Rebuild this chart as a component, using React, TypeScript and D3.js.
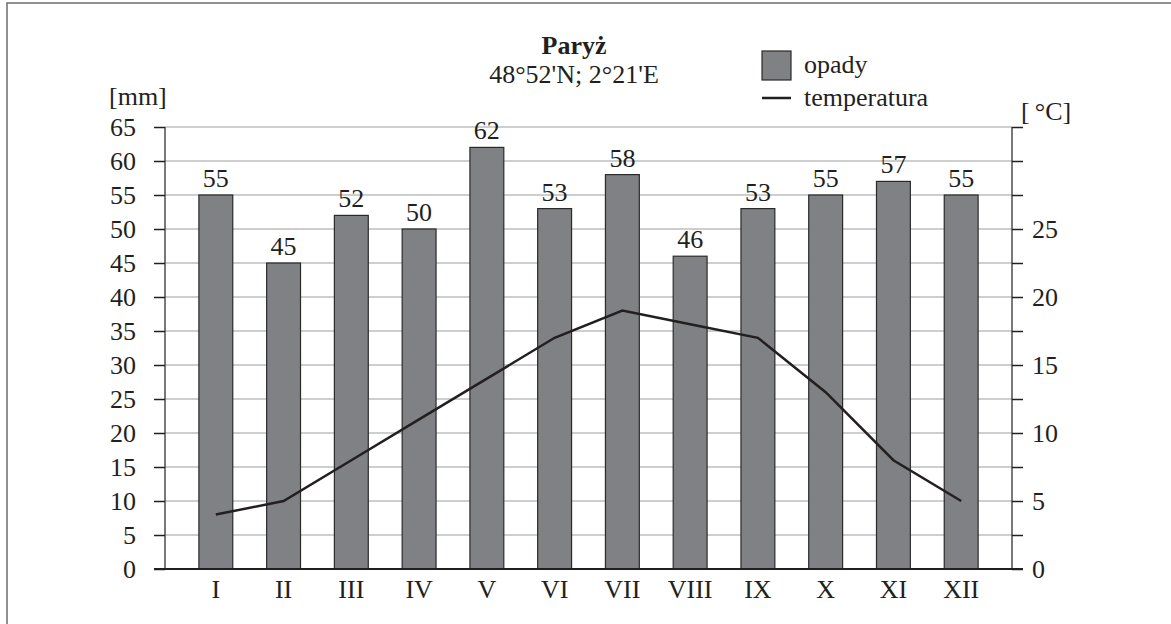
import React, { useEffect, useRef } from 'react';
import * as d3 from 'd3';

// Paris climate chart: monthly precipitation (bars) and temperature (line)
const months = ['I', 'II', 'III', 'IV', 'V', 'VI', 'VII', 'VIII', 'IX', 'X', 'XI', 'XII'];
const precipitation = [55, 45, 52, 50, 62, 53, 58, 46, 53, 55, 57, 55];
const temperature = [4, 5, 8, 11, 14, 17, 19, 18, 17, 13, 8, 5];
const mmTicks = [0, 5, 10, 15, 20, 25, 30, 35, 40, 45, 50, 55, 60, 65];
const tempTicks = [0, 2.5, 5, 7.5, 10, 12.5, 15, 17.5, 20, 22.5, 25, 27.5, 30, 32.5];
const tempLabels = [0, 5, 10, 15, 20, 25];

const W = 1171;
const H = 624;
const FONT = '"Liberation Serif", "Times New Roman", serif';
const FS = 26;
const INK = '#231f20';

const App = () => {
  const ref = useRef<SVGSVGElement>(null);

  useEffect(() => {
    const svg = d3.select(ref.current);
    svg.selectAll('*').remove();

    const left = 165;
    const right = 1012;
    const bottom = 569;
    const top = 127;

    const x = d3.scaleBand<string>()
      .domain(months)
      .range([left, right])
      .paddingInner(0.5)
      .paddingOuter(0.5);
    const y = d3.scaleLinear().domain([0, 65]).range([bottom, top]);
    const yT = d3.scaleLinear().domain([0, 32.5]).range([bottom, top]);

    // frame (only top and left edges show)
    svg.append('path')
      .attr('d', `M7,${H} V3 H${W}`)
      .attr('fill', 'none')
      .attr('stroke', '#6d6e70')
      .attr('stroke-width', 1.5);

    // grid
    svg.append('g')
      .selectAll('line')
      .data(mmTicks.filter(d => d > 0))
      .enter()
      .append('line')
      .attr('x1', left)
      .attr('x2', right)
      .attr('y1', d => y(d))
      .attr('y2', d => y(d))
      .attr('stroke', '#bcbec0')
      .attr('stroke-width', 1.5);

    // bars
    svg.append('g')
      .selectAll('rect')
      .data(precipitation)
      .enter()
      .append('rect')
      .attr('x', (d, i) => x(months[i])!)
      .attr('y', d => y(d))
      .attr('width', x.bandwidth())
      .attr('height', d => bottom - y(d))
      .attr('fill', '#808184')
      .attr('stroke', '#2b2a2b')
      .attr('stroke-width', 1.2);

    // bar values
    svg.append('g')
      .selectAll('text')
      .data(precipitation)
      .enter()
      .append('text')
      .attr('x', (d, i) => x(months[i])! + x.bandwidth() / 2)
      .attr('y', d => y(d) - 8)
      .attr('text-anchor', 'middle')
      .attr('font-family', FONT)
      .attr('font-size', FS)
      .attr('fill', INK)
      .text(d => d);

    // temperature line
    const line = d3.line<number>()
      .x((d, i) => x(months[i])! + x.bandwidth() / 2)
      .y(d => yT(d));
    svg.append('path')
      .datum(temperature)
      .attr('d', line)
      .attr('fill', 'none')
      .attr('stroke', INK)
      .attr('stroke-width', 2.5);

    // left axis
    const yAxis = d3.axisLeft(y).tickValues(mmTicks).tickSize(11).tickPadding(18);
    const gl = svg.append('g').attr('transform', `translate(${left},0)`).call(yAxis);
    gl.select('.domain').attr('d', `M0,${top}V${bottom}`).attr('stroke', '#4d4d4f').attr('stroke-width', 1.5);

    // right axis
    const yTAxis = d3.axisRight(yT)
      .tickValues(tempTicks)
      .tickSize(11)
      .tickPadding(9)
      .tickFormat(d => (tempLabels.includes(+d) ? String(d) : ''));
    const gr = svg.append('g').attr('transform', `translate(${right},0)`).call(yTAxis);
    gr.select('.domain').attr('d', `M0,${top}V${bottom}`).attr('stroke', '#4d4d4f').attr('stroke-width', 1.5);

    [gl, gr].forEach(g => {
      g.attr('font-family', FONT).attr('font-size', FS);
      g.selectAll('.tick line').attr('stroke', INK).attr('stroke-width', 1.5);
      g.selectAll('.tick text').attr('fill', INK);
    });

    // baseline
    svg.append('line')
      .attr('x1', left - 11)
      .attr('x2', right + 11)
      .attr('y1', bottom)
      .attr('y2', bottom)
      .attr('stroke', INK)
      .attr('stroke-width', 2);

    // bottom axis (month names)
    const xAxis = d3.axisBottom(x).tickSize(0).tickPadding(11);
    const gb = svg.append('g').attr('transform', `translate(0,${bottom})`).call(xAxis);
    gb.select('.domain').remove();
    gb.attr('font-family', FONT).attr('font-size', FS);
    gb.selectAll('.tick text').attr('fill', INK);

    // unit labels
    svg.append('text')
      .attr('x', 109).attr('y', 105)
      .attr('font-family', FONT).attr('font-size', FS).attr('fill', INK)
      .text('[mm]');
    svg.append('text')
      .attr('x', 1021).attr('y', 120)
      .attr('font-family', FONT).attr('font-size', FS).attr('fill', INK)
      .text('[\u2009°C]');

    // title
    svg.append('text')
      .attr('x', 574).attr('y', 54)
      .attr('text-anchor', 'middle')
      .attr('font-family', FONT).attr('font-size', FS).attr('font-weight', 'bold').attr('fill', INK)
      .text('Paryż');
    svg.append('text')
      .attr('x', 574).attr('y', 83)
      .attr('text-anchor', 'middle')
      .attr('font-family', FONT).attr('font-size', FS).attr('fill', INK)
      .text("48°52'N; 2°21'E");

    // legend
    svg.append('rect')
      .attr('x', 762).attr('y', 51).attr('width', 29).attr('height', 29)
      .attr('fill', '#808184').attr('stroke', '#2b2a2b').attr('stroke-width', 1.2);
    svg.append('text')
      .attr('x', 804).attr('y', 73)
      .attr('font-family', FONT).attr('font-size', FS).attr('fill', INK)
      .text('opady');
    svg.append('line')
      .attr('x1', 762).attr('x2', 791).attr('y1', 98).attr('y2', 98)
      .attr('stroke', INK).attr('stroke-width', 2.5);
    svg.append('text')
      .attr('x', 804).attr('y', 106)
      .attr('font-family', FONT).attr('font-size', FS).attr('fill', INK)
      .text('temperatura');
  }, []);

  return (
    <svg
      ref={ref}
      width={W}
      height={H}
      style={{ position: 'absolute', left: 0, top: 0, background: '#fff' }}
    />
  );
};

export default App;
